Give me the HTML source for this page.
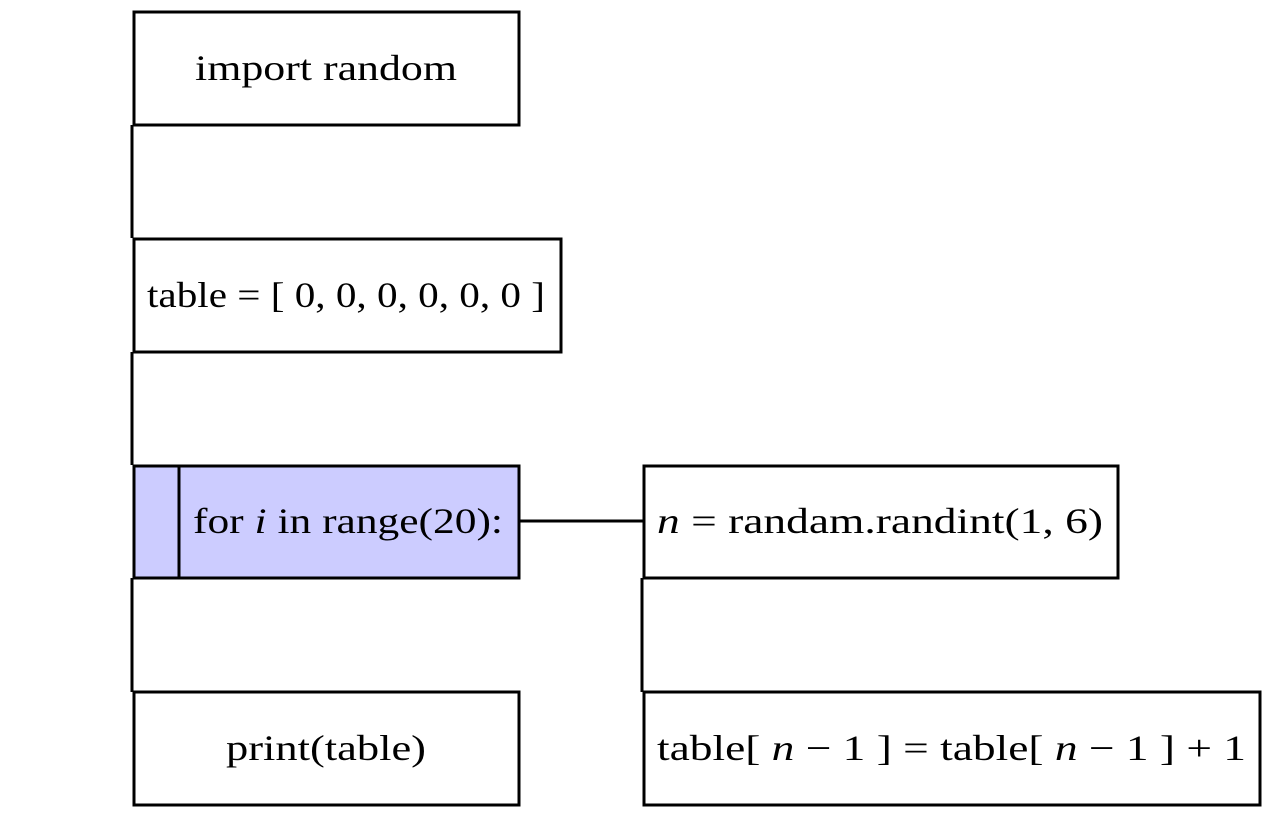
<!DOCTYPE html>
<html><head><meta charset="utf-8"><style>
html,body{margin:0;padding:0;background:#fff;}
svg{display:block;}
text{font-family:"Liberation Serif",serif;font-size:36px;fill:#000;}
</style></head><body>
<svg width="1273" height="819" viewBox="0 0 1273 819">
<g stroke="#000" stroke-width="3" fill="none">
<line x1="132" y1="125" x2="132" y2="238"/>
<line x1="132" y1="352" x2="132" y2="465"/>
<line x1="132" y1="578" x2="132" y2="692"/>
<line x1="519" y1="521" x2="643" y2="521"/>
<line x1="642" y1="578" x2="642" y2="692"/>
</g>
<g stroke="#000" stroke-width="3">
<rect x="134" y="12" width="385" height="113" fill="#fff"/>
<rect x="134" y="239" width="427" height="113" fill="#fff"/>
<rect x="134" y="466" width="385" height="112" fill="#ccccff"/>
<line x1="179" y1="466" x2="179" y2="578"/>
<rect x="134" y="692" width="385" height="113" fill="#fff"/>
<rect x="644" y="466" width="474" height="112" fill="#fff"/>
<rect x="644" y="692" width="616" height="113" fill="#fff"/>
</g>
<text x="195" y="80" textLength="262" lengthAdjust="spacingAndGlyphs">import random</text>
<text x="147" y="307" textLength="398" lengthAdjust="spacingAndGlyphs">table = [ 0, 0, 0, 0, 0, 0 ]</text>
<text x="193" y="533" textLength="310" lengthAdjust="spacingAndGlyphs">for <tspan font-style="italic">i</tspan> in range(20):</text>
<text x="226" y="760" textLength="200" lengthAdjust="spacingAndGlyphs">print(table)</text>
<text x="657" y="533" textLength="446" lengthAdjust="spacingAndGlyphs"><tspan font-style="italic">n</tspan> = randam.randint(1, 6)</text>
<text x="657" y="760" textLength="589" lengthAdjust="spacingAndGlyphs">table[ <tspan font-style="italic">n</tspan> − 1 ] = table[ <tspan font-style="italic">n</tspan> − 1 ] + 1</text>
</svg>
</body></html>
